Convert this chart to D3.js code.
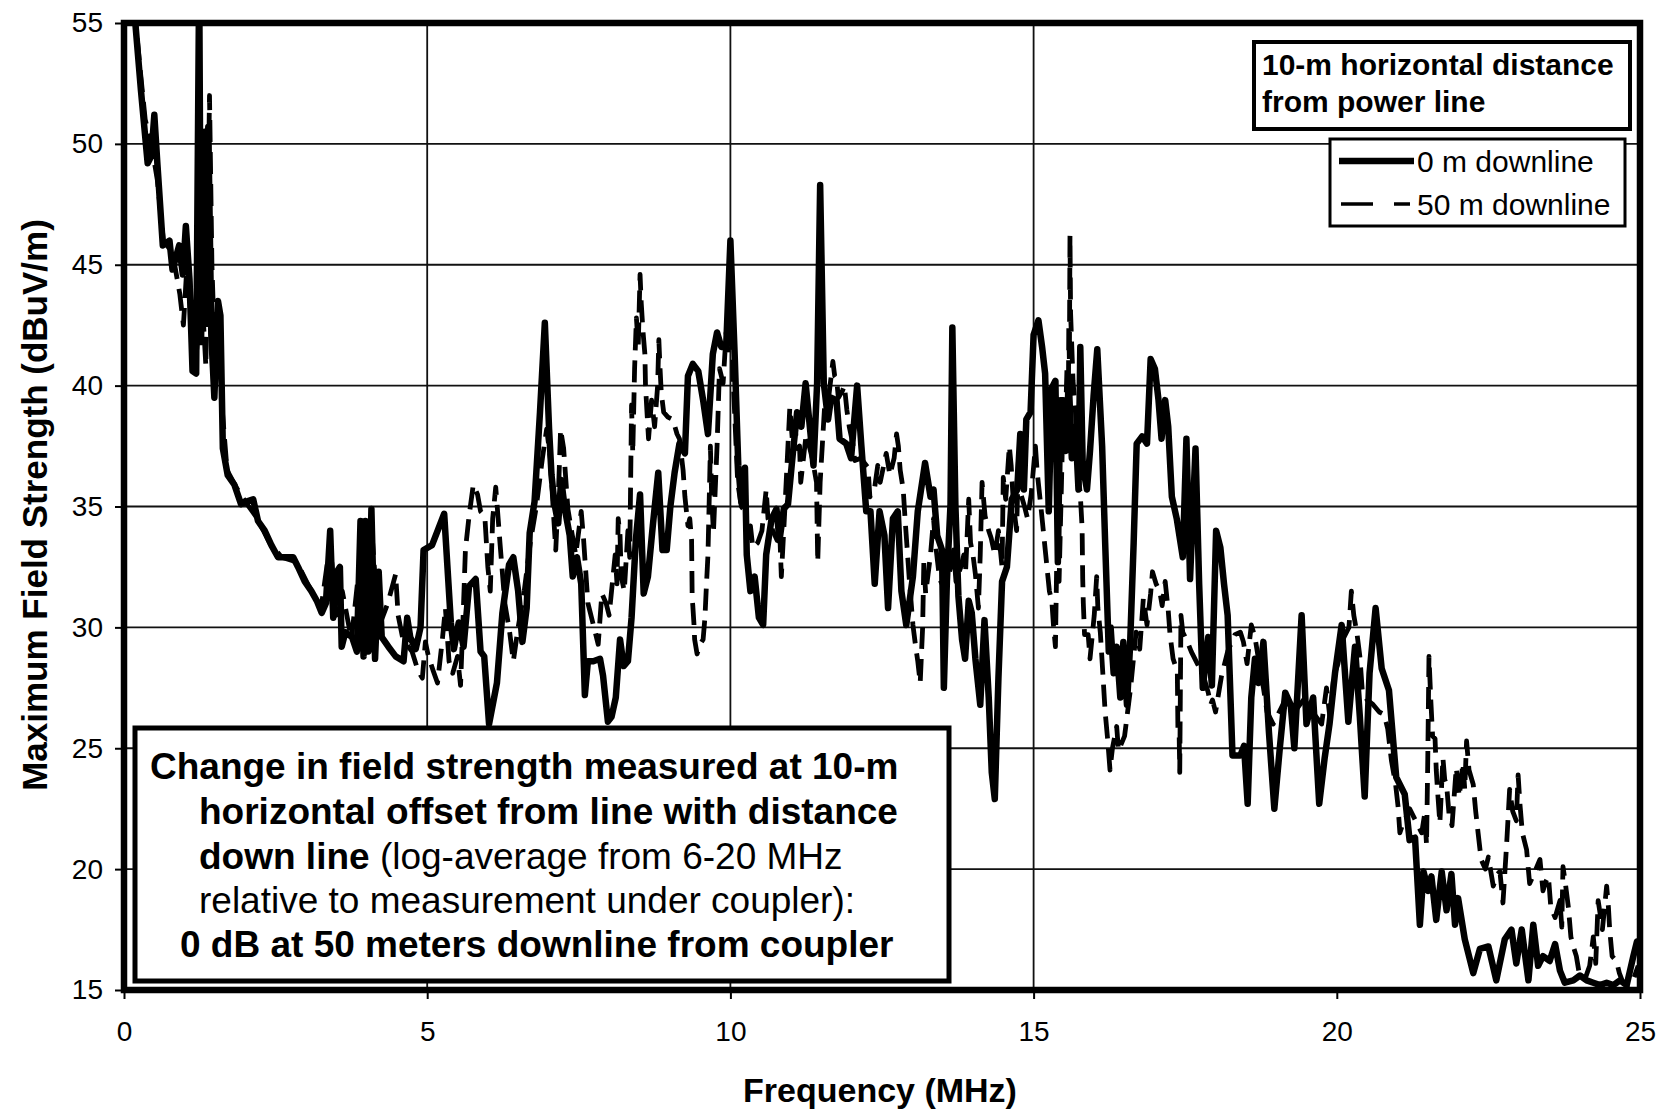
<!DOCTYPE html>
<html>
<head>
<meta charset="utf-8">
<script src="https://cdn.jsdelivr.net/npm/d3@7"></script>
<style>
  html, body { margin: 0; padding: 0; background: #fff; }
  svg { display: block; font-family: "Liberation Sans", Arial, sans-serif; }
</style>
</head>
<body>
<svg id="chart" width="1663" height="1111"></svg>
<script>
// ---------- DATA ----------
const xTicks = [0, 5, 10, 15, 20, 25];
const yTicks = [15, 20, 25, 30, 35, 40, 45, 50, 55];
const xGrid = [5, 10, 15];
const yGrid = [20, 25, 30, 35, 40, 45, 50];
const seriesNames = ["0 m downline", "50 m downline"];

// 0 m downline: [frequency MHz, field strength dBuV/m]
const solid0m = [
[0.08,58],[0.17,55.5],[0.28,52.2],[0.39,49.2],[0.45,49.5],[0.5,51.2],[0.55,49.2],[0.64,45.8],[0.75,46],[0.8,44.8],
[0.91,45.8],[0.97,44.6],[1.02,46.6],[1.08,44.4],[1.13,40.6],[1.19,40.5],[1.24,57],[1.27,41.8],[1.33,50.5],[1.35,42.7],
[1.39,50.7],[1.44,42.1],[1.49,39.5],[1.55,43.5],[1.59,42.9],[1.63,37.4],[1.71,36.3],[1.82,35.9],[1.93,35.1],[2.02,35.2],
[2.13,35.3],[2.21,34.4],[2.32,34],[2.43,33.4],[2.54,32.9],[2.65,32.9],[2.79,32.9],[2.87,32.5],[2.98,31.9],[3.09,31.5],
[3.18,31.1],[3.26,30.6],[3.33,31],[3.4,34],[3.45,30.4],[3.51,32.3],[3.56,32.5],[3.59,29.2],[3.65,29.8],[3.76,29.6],
[3.84,29],[3.9,34.4],[3.95,28.8],[3.98,34.4],[4.03,29],[4.08,34.9],[4.14,28.7],[4.2,32.3],[4.25,29.6],[4.36,29.2],
[4.48,28.8],[4.61,28.6],[4.67,30.4],[4.72,29.6],[4.81,29.1],[4.89,30],[4.94,33.2],[5.08,33.4],[5.28,34.7],[5.39,30.2],
[5.44,29.1],[5.52,30.2],[5.6,29.2],[5.69,31.7],[5.8,32],[5.88,29],[5.94,28.8],[6.02,26],[6.15,27.7],[6.24,30.6],
[6.35,32.6],[6.42,32.9],[6.5,31.5],[6.57,29.4],[6.64,30.8],[6.69,33.9],[6.77,35.2],[6.86,38.9],[6.94,42.6],[7.01,38.2],
[7.05,36.3],[7.1,35.1],[7.16,34.3],[7.21,36.1],[7.27,34.9],[7.35,33.8],[7.4,32.1],[7.47,32.9],[7.54,31.8],[7.6,27.2],
[7.65,28.6],[7.74,28.6],[7.85,28.7],[7.9,28],[7.98,26.1],[8.04,26.3],[8.11,27.1],[8.18,29.5],[8.24,28.4],[8.31,28.6],
[8.37,30.4],[8.44,33.6],[8.51,35.5],[8.57,31.4],[8.64,32.1],[8.72,34.2],[8.81,36.4],[8.88,33.2],[8.95,33.2],[9.01,35],
[9.08,36.4],[9.16,37.6],[9.25,37.2],[9.3,40.4],[9.38,40.9],[9.47,40.6],[9.55,39.4],[9.63,38],[9.71,41.3],[9.78,42.2],
[9.85,41.6],[9.93,41.6],[10.0,46],[10.07,41.3],[10.13,36.7],[10.18,35.2],[10.24,36.6],[10.27,33],[10.33,31.5],[10.4,32.1],
[10.47,30.4],[10.54,30.1],[10.59,33],[10.68,34.5],[10.76,34.9],[10.81,33.6],[10.88,34.9],[10.95,35.1],[11.03,37.2],[11.1,38.9],
[11.17,38.3],[11.24,40.1],[11.31,38.3],[11.37,36.7],[11.43,40.1],[11.48,48.3],[11.54,40.1],[11.61,38.6],[11.66,39.5],[11.75,39.4],
[11.8,37.8],[11.91,37.6],[11.99,37],[12.09,40],[12.16,37.5],[12.24,34.8],[12.31,34.8],[12.38,31.8],[12.46,34.8],[12.54,33.8],
[12.6,30.8],[12.68,34.5],[12.76,34.8],[12.82,31.5],[12.9,30.1],[13.01,32.1],[13.09,34.8],[13.21,36.8],[13.3,35.4],[13.35,35.7],
[13.41,33.8],[13.49,33.2],[13.52,27.5],[13.57,31.9],[13.63,35.1],[13.66,42.4],[13.71,35.1],[13.76,31.3],[13.82,29.5],[13.87,28.7],
[13.93,31.1],[13.98,30.6],[14.04,28.7],[14.12,26.8],[14.19,30.3],[14.26,27.1],[14.31,24],[14.36,22.9],[14.42,27.9],[14.48,31.9],
[14.56,32.5],[14.64,35.3],[14.73,35.7],[14.78,38],[14.84,35.7],[14.88,38.6],[14.95,38.9],[15.0,42.1],[15.08,42.7],[15.14,41.6],
[15.19,40.5],[15.25,34.8],[15.3,39.9],[15.36,40.2],[15.4,32.7],[15.44,39.4],[15.49,39.4],[15.53,37.3],[15.58,40.2],[15.63,37],
[15.69,38.3],[15.74,35.7],[15.77,41.6],[15.81,36.7],[15.88,35.7],[15.93,37.3],[15.99,39.6],[16.05,41.5],[16.13,37.5],[16.18,33.5],
[16.24,29],[16.27,30],[16.32,28.1],[16.37,29.2],[16.43,27.1],[16.48,29.4],[16.54,26.8],[16.59,29.2],[16.65,33.5],[16.7,37.6],
[16.79,37.9],[16.87,37.6],[16.93,41.1],[17.0,40.7],[17.06,39.4],[17.11,37.8],[17.17,39.4],[17.22,38.3],[17.28,35.4],[17.36,34.5],
[17.46,32.9],[17.52,37.8],[17.58,32],[17.67,37.4],[17.73,31.8],[17.79,27.5],[17.88,29.6],[17.94,27.6],[18.01,34],[18.08,33.3],
[18.14,31.8],[18.2,30.5],[18.28,24.7],[18.41,24.7],[18.47,25.1],[18.53,22.7],[18.59,27.1],[18.65,28.7],[18.71,27.7],[18.79,29.4],
[18.88,25.7],[18.97,22.5],[19.06,25],[19.15,27.3],[19.24,26.8],[19.3,25],[19.42,30.5],[19.5,26],[19.61,27.1],[19.71,22.7],
[19.8,24.6],[19.88,26],[19.97,28.1],[20.08,30.1],[20.19,26.1],[20.3,29.2],[20.38,26.3],[20.46,23],[20.54,28.1],[20.64,30.8],
[20.74,28.3],[20.86,27.4],[20.98,23.8],[21.12,23.1],[21.2,21.2],[21.29,21.3],[21.37,17.7],[21.43,19.9],[21.51,19.1],[21.56,19.7],
[21.64,17.9],[21.73,19.9],[21.81,18.3],[21.89,19.8],[21.95,17.7],[22.0,18.8],[22.11,17.1],[22.25,15.7],[22.36,16.7],[22.5,16.8],
[22.63,15.4],[22.77,17.1],[22.88,17.5],[22.96,16.1],[23.05,17.5],[23.16,15.4],[23.24,17.7],[23.32,16],[23.4,16.4],[23.51,16.2],
[23.6,16.9],[23.68,15.8],[23.76,15.3],[23.9,15.4],[24.01,15.6],[24.12,15.4],[24.23,15.3],[24.34,15.2],[24.45,15.3],[24.56,15.2],
[24.67,15.4],[24.78,15.2],[24.89,16.4],[24.95,17]
];

// 50 m downline: [frequency MHz, field strength dBuV/m]
const dashed50m = [
[0.12,57],[0.25,53.5],[0.35,51],[0.45,50],[0.55,48.5],[0.65,46],[0.8,45.5],[0.92,43.8],[0.98,42.5],[1.05,45.5],
[1.12,43],[1.2,41.5],[1.28,44],[1.35,40.8],[1.41,52],[1.45,45],[1.5,41],[1.56,43],[1.62,39],[1.7,36.5],
[1.85,35.8],[2.0,35.2],[2.2,34.5],[2.4,33.5],[2.6,32.9],[2.85,32.7],[3.05,31.7],[3.25,30.8],[3.4,33.5],[3.5,30.5],
[3.6,31.5],[3.75,29.5],[3.9,33],[4.0,29.5],[4.1,33.5],[4.2,30],[4.35,31],[4.48,32.2],[4.52,30.5],[4.6,29.5],
[4.75,29],[4.85,28.2],[4.92,27.9],[4.97,29.4],[5.02,28.8],[5.1,28.2],[5.17,27.7],[5.25,29.5],[5.3,30.8],[5.36,28.6],
[5.42,28.1],[5.5,28.8],[5.55,27.6],[5.6,31],[5.63,33.2],[5.69,34.6],[5.76,35.9],[5.83,35.5],[5.88,34.8],[5.95,34.6],
[6.0,32.5],[6.04,31.5],[6.08,34.5],[6.13,35.8],[6.17,34.5],[6.2,33.5],[6.28,31],[6.36,29.8],[6.42,28.6],[6.5,30],
[6.6,31.5],[6.7,33.5],[6.8,35],[6.9,37],[6.97,38.2],[7.03,37],[7.08,34.8],[7.12,33.2],[7.17,36],[7.2,38.2],
[7.25,37.4],[7.32,34.9],[7.38,34],[7.45,33],[7.54,34.8],[7.58,33.6],[7.65,31],[7.74,30.1],[7.82,29.3],[7.88,31.4],
[7.95,31],[8.0,30.5],[8.1,33],[8.13,31.8],[8.15,34.5],[8.18,33.8],[8.2,32.1],[8.25,31.5],[8.31,34],[8.34,32.9],
[8.37,39.2],[8.39,37.2],[8.42,40.7],[8.45,42.8],[8.48,41.6],[8.51,44.6],[8.53,43.4],[8.56,42.2],[8.59,41.3],[8.6,40],
[8.62,39.1],[8.65,37.8],[8.7,39.4],[8.75,38.3],[8.8,40],[8.82,41.9],[8.84,40.7],[8.86,39.7],[8.9,38.9],[8.97,38.7],
[9.05,38.6],[9.12,38],[9.16,37.8],[9.22,36.5],[9.25,35.4],[9.3,34.2],[9.33,34.5],[9.36,33.6],[9.37,31.2],[9.38,30.9],
[9.4,30.1],[9.41,29.5],[9.45,28.9],[9.5,29.3],[9.55,29.5],[9.58,30.4],[9.6,31.5],[9.63,33],[9.66,36.3],[9.67,37.5],
[9.69,35.5],[9.72,33.9],[9.78,37.5],[9.82,40.7],[9.88,40.1],[9.93,42.2],[9.96,41.3],[10.0,44],[10.05,40],[10.12,36],
[10.18,35],[10.24,34.8],[10.29,33.6],[10.33,34.2],[10.37,33.3],[10.45,33.5],[10.52,34],[10.59,35.7],[10.62,34.5],[10.7,34],
[10.77,33.6],[10.81,34.2],[10.84,32.1],[10.9,35],[10.98,39.1],[11.02,37.8],[11.06,38.5],[11.1,37.4],[11.14,37.5],[11.16,36],
[11.25,38],[11.35,37],[11.42,36],[11.44,32.7],[11.48,36],[11.55,39],[11.62,39.5],[11.69,41],[11.72,40.4],[11.75,40.3],
[11.78,39.5],[11.85,39.8],[11.88,40],[11.92,39],[11.96,38.3],[12.02,37.6],[12.05,36.9],[12.15,37],[12.27,36.6],[12.3,35.4],
[12.38,35.8],[12.43,36.7],[12.47,36],[12.57,37.2],[12.63,36.3],[12.7,37],[12.74,38],[12.77,37.5],[12.8,36.5],[12.85,35.7],
[12.88,34.5],[12.95,32],[13.01,30.1],[13.05,29.3],[13.09,28.6],[13.13,27.7],[13.17,30],[13.19,32.7],[13.22,31.4],[13.3,33],
[13.35,34.5],[13.38,33.5],[13.45,32],[13.55,31.5],[13.63,32.5],[13.68,33.2],[13.72,31.9],[13.8,32.5],[13.85,33],[13.88,32.4],
[13.93,35.3],[13.96,33.5],[14.0,33],[14.04,32.2],[14.09,30.8],[14.12,33],[14.15,36],[14.2,34.6],[14.26,34],[14.3,33.7],
[14.36,33],[14.42,34],[14.48,32.5],[14.5,36.2],[14.54,35.3],[14.6,37.5],[14.63,36.7],[14.67,35],[14.72,34],[14.75,37],
[14.78,35.6],[14.85,35],[14.9,34.5],[14.96,35.5],[15.03,37.5],[15.06,36.4],[15.12,35],[15.2,33],[15.26,31.5],[15.3,31.1],
[15.33,30],[15.36,29.2],[15.38,32.5],[15.42,31.9],[15.46,36],[15.49,39.2],[15.52,38],[15.55,40.7],[15.57,37.6],[15.58,42.4],
[15.59,41],[15.6,46.2],[15.61,43],[15.63,41.6],[15.65,40.2],[15.69,38.9],[15.72,36.7],[15.77,35.5],[15.8,34.1],[15.81,32],
[15.82,31],[15.84,29.7],[15.9,29.7],[15.93,28.7],[16.0,30.5],[16.04,32.1],[16.06,30.8],[16.1,29.8],[16.12,29],[16.18,26.5],
[16.22,25.4],[16.26,24.1],[16.3,25],[16.37,25.9],[16.4,24.9],[16.45,25.2],[16.5,25.5],[16.6,27.5],[16.69,29.8],[16.75,29.1],
[16.81,31.2],[16.87,30.1],[16.93,31.4],[16.96,32.3],[17.02,31.8],[17.08,31.5],[17.12,30.9],[17.17,31.9],[17.22,30.7],[17.25,29.7],
[17.3,28.7],[17.34,28.4],[17.37,28.2],[17.38,25.7],[17.4,25.6],[17.41,24],[17.43,30.5],[17.46,29.8],[17.52,29.5],[17.6,29],
[17.7,28.5],[17.8,28],[17.88,27.3],[17.92,26.8],[17.95,27],[18.0,26.5],[18.1,28],[18.2,29],[18.32,29.7],[18.41,29.8],
[18.46,29.4],[18.52,28.5],[18.59,30.1],[18.65,29.6],[18.72,28.5],[18.79,27.5],[18.85,26.5],[18.95,26],[19.05,26.5],[19.15,27],
[19.3,26.5],[19.45,27],[19.6,26.5],[19.75,26],[19.83,27.5],[19.89,26.2],[19.95,28],[20.02,28.5],[20.1,29.5],[20.2,30],
[20.24,31.5],[20.28,30.5],[20.33,29.8],[20.38,28.8],[20.42,27.4],[20.5,27],[20.6,26.8],[20.7,26.5],[20.78,26.4],[20.84,25.8],
[20.9,24.5],[20.97,23.5],[21.01,22.6],[21.04,21.5],[21.08,21.8],[21.12,22],[21.2,22.5],[21.3,22],[21.4,21.5],[21.45,22.3],
[21.48,21],[21.5,24.5],[21.52,28.8],[21.55,27],[21.58,25.5],[21.62,25.4],[21.64,24.1],[21.66,23.3],[21.7,21.9],[21.75,24.6],
[21.78,23.7],[21.81,23.5],[21.85,22.3],[21.9,21.8],[21.97,24.2],[22.02,23],[22.08,24.4],[22.11,23.3],[22.14,25.3],[22.18,24.1],
[22.25,23.5],[22.29,22.4],[22.33,21.5],[22.38,20.4],[22.45,20],[22.5,20.5],[22.58,19.3],[22.65,19.8],[22.69,19.9],[22.74,18.6],
[22.8,21],[22.85,23.3],[22.9,22.4],[22.96,22],[22.99,23.9],[23.02,22.7],[23.06,21.5],[23.13,20.8],[23.18,19.4],[23.25,19.8],
[23.35,20.4],[23.4,19.1],[23.45,19.5],[23.49,19.7],[23.53,18.4],[23.6,18],[23.68,18.7],[23.71,17.6],[23.73,20.1],[23.77,19.4],
[23.82,18.4],[23.86,17.2],[23.9,16.8],[23.95,16.4],[23.99,15.8],[24.05,15.6],[24.1,15.5],[24.17,16],[24.23,17.2],[24.27,16.1],
[24.31,18.7],[24.34,18.2],[24.38,17.5],[24.45,19.3],[24.48,18.4],[24.5,17.5],[24.54,16.4],[24.61,16.2],[24.66,15.7],[24.72,15.3],
[24.8,15.2],[24.9,15.5],[24.97,16]
];

// ---------- LAYOUT ----------
const svg = d3.select("#chart");
const L = 124, R = 1640, T = 23, B = 990;
const x = d3.scaleLinear().domain([0, 25]).range([L, R]);
const y = d3.scaleLinear().domain([15, 55]).range([B, T]);
const FONT = '"Liberation Sans", Arial, sans-serif';

svg.append("rect").attr("width", 1663).attr("height", 1111).attr("fill", "#fff");

// grid
const g = svg.append("g");
g.selectAll(".hg").data(yGrid).enter().append("line")
  .attr("x1", L).attr("x2", R).attr("y1", d => y(d)).attr("y2", d => y(d))
  .attr("stroke", "#111").attr("stroke-width", 1.8);
g.selectAll(".vg").data(xGrid).enter().append("line")
  .attr("y1", T).attr("y2", B).attr("x1", d => x(d)).attr("x2", d => x(d))
  .attr("stroke", "#111").attr("stroke-width", 1.8);

// axes
const yAxis = svg.append("g").attr("transform", `translate(${L},0)`)
  .call(d3.axisLeft(y).tickValues(yTicks).tickSize(9).tickPadding(12).tickFormat(d3.format("d")));
const xAxis = svg.append("g").attr("transform", `translate(0,${B})`)
  .call(d3.axisBottom(x).tickValues(xTicks).tickSize(9).tickPadding(22).tickFormat(d3.format("d")));
[yAxis, xAxis].forEach(a => {
  a.select(".domain").remove();
  a.selectAll(".tick line").attr("stroke", "#000").attr("stroke-width", 2);
  a.selectAll(".tick text").attr("font-family", FONT).attr("font-size", 28).attr("fill", "#000");
});

// clip
svg.append("clipPath").attr("id", "plotclip").append("rect")
  .attr("x", L).attr("y", T).attr("width", R - L).attr("height", B - T);

const line = d3.line().x(d => x(d[0])).y(d => y(d[1]));
const plot = svg.append("g").attr("clip-path", "url(#plotclip)");
plot.append("path").datum(dashed50m).attr("d", line)
  .attr("fill", "none").attr("stroke", "#000").attr("stroke-width", 4.8)
  .attr("stroke-dasharray", "22,10").attr("stroke-linejoin", "round");
plot.append("path").datum(solid0m).attr("d", line)
  .attr("fill", "none").attr("stroke", "#000").attr("stroke-width", 6.5)
  .attr("stroke-linejoin", "round").attr("stroke-linecap", "round");

// annotation box
svg.append("rect").attr("x", 135).attr("y", 728).attr("width", 814).attr("height", 253)
  .attr("fill", "#fff").attr("stroke", "#000").attr("stroke-width", 5);
const ann = svg.append("g").attr("font-family", FONT).attr("font-size", 37).attr("fill", "#000");
function annLine(xp, yp, parts) {
  const t = ann.append("text").attr("x", xp).attr("y", yp).attr("dy", "0.36em");
  parts.forEach(p => t.append("tspan").attr("font-weight", p[1] ? "bold" : "normal").text(p[0]));
}
annLine(150, 766, [["Change in field strength measured at 10-m", true]]);
annLine(199, 811, [["horizontal offset from line with distance", true]]);
annLine(199, 856, [["down line", true], [" (log-average from 6-20 MHz", false]]);
annLine(199, 900, [["relative to measurement under coupler):", false]]);
annLine(180, 944, [["0 dB at 50 meters downline from coupler", true]]);

// title box (legend header)
svg.append("rect").attr("x", 1254).attr("y", 42).attr("width", 376).attr("height", 87)
  .attr("fill", "#fff").attr("stroke", "#000").attr("stroke-width", 4);
svg.append("text").attr("x", 1262).attr("y", 64).attr("dy", "0.36em")
  .attr("font-family", FONT).attr("font-weight", "bold").attr("font-size", 30).text("10-m horizontal distance");
svg.append("text").attr("x", 1262).attr("y", 101).attr("dy", "0.36em")
  .attr("font-family", FONT).attr("font-weight", "bold").attr("font-size", 30).text("from power line");

// legend box
svg.append("rect").attr("x", 1330).attr("y", 139).attr("width", 295).attr("height", 87)
  .attr("fill", "#fff").attr("stroke", "#000").attr("stroke-width", 3);
const legY = [161, 204];
svg.append("line").attr("x1", 1339).attr("x2", 1414).attr("y1", legY[0]).attr("y2", legY[0])
  .attr("stroke", "#000").attr("stroke-width", 6.5);
svg.append("line").attr("x1", 1341).attr("x2", 1410).attr("y1", legY[1]).attr("y2", legY[1])
  .attr("stroke", "#000").attr("stroke-width", 3.5).attr("stroke-dasharray", "32,21,16");
svg.selectAll(".legtext").data(seriesNames).enter().append("text")
  .attr("x", 1417).attr("y", (d, i) => legY[i]).attr("dy", "0.36em")
  .attr("font-family", FONT).attr("font-size", 30).text(d => d);

// frame
svg.append("rect").attr("x", L).attr("y", T).attr("width", R - L).attr("height", B - T)
  .attr("fill", "none").attr("stroke", "#000").attr("stroke-width", 6.5);

// axis titles
svg.append("text").attr("x", 880).attr("y", 1090).attr("dy", "0.36em").attr("text-anchor", "middle")
  .attr("font-family", FONT).attr("font-weight", "bold").attr("font-size", 34).text("Frequency (MHz)");
svg.append("text").attr("transform", "translate(34,505) rotate(-90)").attr("dy", "0.36em")
  .attr("text-anchor", "middle").attr("font-family", FONT).attr("font-weight", "bold").attr("font-size", 35)
  .text("Maximum Field Strength (dBuV/m)");
</script>
</body>
</html>
